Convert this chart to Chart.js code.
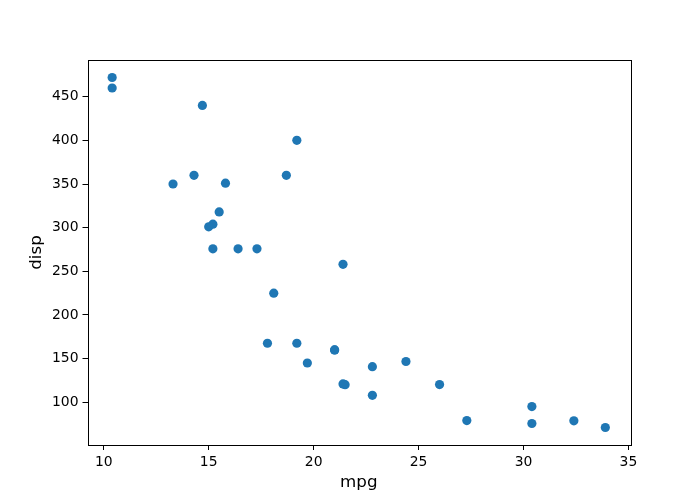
<!DOCTYPE html>
<html>
<head>
<meta charset="utf-8">
<script src="https://cdn.jsdelivr.net/npm/chart.js@4"></script>
<style>
  body { margin: 0; background: #fff; }
  #wrap { width: 700px; height: 500px; }
</style>
</head>
<body>
<div id="wrap"><canvas id="myChart" width="700" height="500"></canvas></div>
<script>
// mpg vs disp, one point per car
const mpg = [21.0, 21.0, 22.8, 21.4, 18.7, 18.1, 14.3, 24.4, 22.8, 19.2, 17.8, 16.4, 17.3, 15.2, 10.4, 10.4,
             14.7, 32.4, 30.4, 33.9, 21.5, 15.5, 15.2, 13.3, 19.2, 27.3, 26.0, 30.4, 15.8, 19.7, 15.0, 21.4];
const disp = [160, 160, 108, 258, 360, 225, 360, 146.7, 140.8, 167.6, 167.6, 275.8, 275.8, 275.8, 472, 460,
              440, 78.7, 75.7, 71.1, 120.1, 318, 304, 350, 400, 79, 120.3, 95.1, 351, 145, 301, 121];

const xTicks = [10, 15, 20, 25, 30, 35];
const yTicks = [100, 150, 200, 250, 300, 350, 400, 450];

const points = mpg.map((m, i) => ({ x: m, y: disp[i] }));

// matplotlib style 5% margins
const xMin = Math.min(...mpg), xMax = Math.max(...mpg);
const yMin = Math.min(...disp), yMax = Math.max(...disp);
const xPad = (xMax - xMin) * 0.05;
const yPad = (yMax - yMin) * 0.05;

// full box around the plot area
const boxPlugin = {
    id: 'box',
    afterDraw(chart) {
        const { ctx, chartArea: a } = chart;
        ctx.save();
        ctx.strokeStyle = '#000';
        ctx.lineWidth = 1;
        ctx.strokeRect(Math.round(a.left) + 0.5, Math.round(a.top) + 0.5,
            Math.round(a.right - a.left), Math.round(a.bottom - a.top));
        ctx.restore();
    }
};

const tickFont = { family: 'DejaVu Sans', size: 13.9 };
const titleFont = { family: 'DejaVu Sans', size: 16.7 };

const ctx = document.getElementById('myChart').getContext('2d');
const chart = new Chart(ctx, {
    type: 'scatter',
    data: {
        datasets: [{
            label: 'disp',
            data: points,
            backgroundColor: '#1f77b4',
            borderColor: '#1f77b4',
            borderWidth: 0,
            pointRadius: 4.6,
            pointHoverRadius: 4.6
        }]
    },
    options: {
        responsive: false,
        animation: false,
        layout: { padding: { left: 0, right: 70, top: 60, bottom: 0 } },
        plugins: {
            legend: { display: false },
            tooltip: { enabled: false }
        },
        scales: {
            x: {
                type: 'linear',
                min: xMin - xPad,
                max: xMax + xPad,
                afterBuildTicks: (scale) => { scale.ticks = xTicks.map(v => ({ value: v })); },
                afterFit: (scale) => { scale.height = 55; },
                grid: { display: true, drawOnChartArea: false, drawTicks: true, tickLength: 5, color: '#000' },
                border: { display: false },
                ticks: { color: '#000', font: tickFont, padding: 4, maxRotation: 0 },
                title: { display: true, text: 'mpg', color: '#000', font: titleFont, padding: { top: 0, bottom: 7 } }
            },
            y: {
                type: 'linear',
                min: yMin - yPad,
                max: yMax + yPad,
                afterBuildTicks: (scale) => { scale.ticks = yTicks.map(v => ({ value: v })); },
                afterFit: (scale) => { scale.width = 87.5; },
                grid: { display: true, drawOnChartArea: false, drawTicks: true, tickLength: 5, color: '#000' },
                border: { display: false },
                ticks: { color: '#000', font: tickFont, padding: 4 },
                title: { display: true, text: 'disp', color: '#000', font: titleFont, padding: { top: 27, bottom: 0 } }
            }
        }
    },
    plugins: [boxPlugin]
});
</script>
</body>
</html>
